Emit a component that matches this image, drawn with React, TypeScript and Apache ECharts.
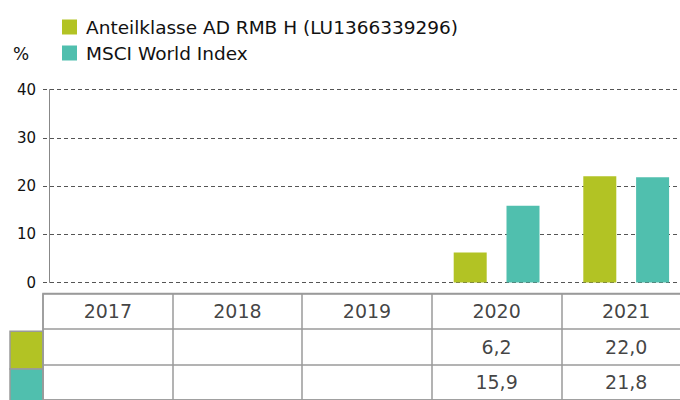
import React, { useEffect, useRef } from "react";
import * as echarts from "echarts";

const years = ["2017", "2018", "2019", "2020", "2021"];
const seriesNames = ["Anteilklasse AD RMB H (LU1366339296)", "MSCI World Index"];
const fundValues: (number | null)[] = [null, null, null, 6.2, 22.0];
const indexValues: (number | null)[] = [null, null, null, 15.9, 21.8];
const colors = ["#b2c324", "#50bfae"];
const yTicks = [0, 10, 20, 30, 40];
const tableRows = ["header", "fund", "index"];

const FONT = "DejaVu Sans";

function fmt(v: number | null) {
  return v == null ? "" : v.toFixed(1).replace(".", ",");
}

export default function App() {
  const ref = useRef<HTMLDivElement>(null);
  useEffect(() => {
    if (!ref.current) return;
    const chart = echarts.init(ref.current, null, { renderer: "svg" });

    const tableData: any[] = [];
    years.forEach((y, i) => {
      tableData.push({ value: [y, "header"], label: { formatter: y } });
      tableData.push({ value: [y, "fund"], label: { formatter: fmt(fundValues[i]) } });
      tableData.push({ value: [y, "index"], label: { formatter: fmt(indexValues[i]) } });
    });

    const tableTop = 293.5;
    const rowH = 37.7;

    chart.setOption({
      animation: false,
      textStyle: { fontFamily: FONT },
      title: {
        text: "%",
        left: 13,
        top: 45,
        padding: 0,
        textStyle: { fontFamily: FONT, fontSize: 17, fontWeight: "normal", color: "#111" },
      },
      legend: {
        orient: "vertical",
        left: 57,
        top: 12,
        icon: "rect",
        itemWidth: 15,
        itemHeight: 15,
        itemGap: 6,
        data: seriesNames,
        textStyle: {
          fontFamily: FONT,
          fontSize: 18.5,
          lineHeight: 20,
          color: "#111",
          padding: [0, 0, 0, 4],
        },
      },
      grid: [
        { left: 43, top: 89.5, width: 648, height: 193 },
        {
          left: 43,
          top: tableTop,
          width: 648,
          height: rowH * 3,
          show: true,
          borderColor: "#9a9a9a",
          borderWidth: 1.5,
        },
      ],
      xAxis: [
        {
          type: "category",
          data: years,
          gridIndex: 0,
          axisLine: { show: false },
          axisTick: { show: false },
          axisLabel: { show: false },
        },
        {
          type: "category",
          data: years,
          gridIndex: 1,
          axisLine: { show: false },
          axisTick: { show: false },
          axisLabel: { show: false },
          splitLine: { show: true, lineStyle: { color: "#9a9a9a", width: 1.5 } },
        },
      ],
      yAxis: [
        {
          type: "value",
          gridIndex: 0,
          min: yTicks[0],
          max: yTicks[yTicks.length - 1],
          interval: 10,
          offset: -6,
          axisLine: { show: true, lineStyle: { color: "#888", width: 1 } },
          axisTick: { show: false },
          axisLabel: { fontFamily: FONT, fontSize: 15, color: "#111", margin: 13 },
          splitLine: { show: true, lineStyle: { color: "#555", width: 1, type: [4, 3] } },
        },
        {
          type: "category",
          data: tableRows,
          inverse: true,
          gridIndex: 1,
          axisLine: { show: false },
          axisTick: { show: false },
          axisLabel: { show: false },
          splitLine: { show: true, lineStyle: { color: "#9a9a9a", width: 1.5 } },
        },
      ],
      series: [
        {
          name: seriesNames[0],
          type: "bar",
          xAxisIndex: 0,
          yAxisIndex: 0,
          data: fundValues,
          barWidth: 33,
          barGap: "60%",
          itemStyle: { color: colors[0] },
        },
        {
          name: seriesNames[1],
          type: "bar",
          xAxisIndex: 0,
          yAxisIndex: 0,
          data: indexValues,
          barWidth: 33,
          barGap: "60%",
          itemStyle: { color: colors[1] },
        },
        {
          type: "scatter",
          xAxisIndex: 1,
          yAxisIndex: 1,
          symbolSize: 0,
          silent: true,
          data: tableData,
          label: {
            show: true,
            position: "inside",
            fontFamily: FONT,
            fontSize: 19,
            color: "#111",
          },
        },
      ],
      graphic: [
        {
          type: "rect",
          shape: { x: 10, y: tableTop + rowH, width: 33, height: rowH },
          style: { fill: colors[0], stroke: "#9a9a9a", lineWidth: 1.5 },
        },
        {
          type: "rect",
          shape: { x: 10, y: tableTop + rowH * 2, width: 33, height: rowH },
          style: { fill: colors[1], stroke: "#9a9a9a", lineWidth: 1.5 },
        },
      ],
    });
    return () => chart.dispose();
  }, []);
  return (
    <div
      style={{
        position: "absolute",
        left: 0,
        top: 0,
        width: 680,
        height: 400,
        overflow: "hidden",
      }}
    >
      <div ref={ref} style={{ width: 700, height: 400 }} />
    </div>
  );
}
